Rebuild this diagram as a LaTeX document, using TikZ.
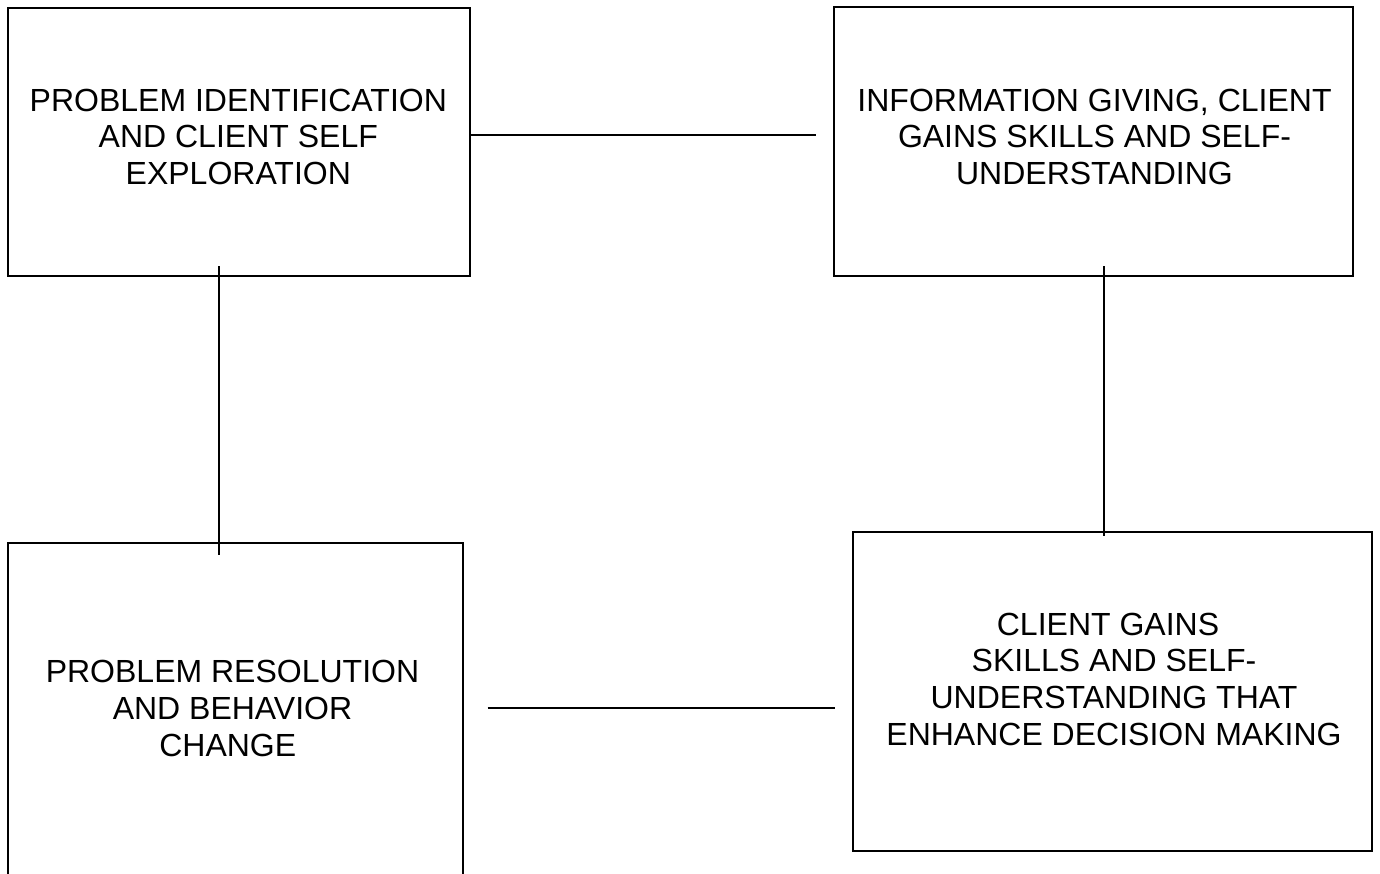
\documentclass[tikz,border=0pt]{standalone}
\usepackage{fontspec}
\setmainfont{Liberation Sans}
\begin{document}
\begin{tikzpicture}[x=0.5pt,y=-0.5pt,
  box/.style={draw=black,line width=1pt,inner sep=0pt,fill=none},
  lbl/.style={inner sep=0pt,align=center,font=\fontsize{16pt}{18.4pt}\selectfont},
  conn/.style={draw=black,line width=1pt}]
\clip (0,0) rectangle (1380,873);
\fill[white] (0,0) rectangle (1380,873);
% boxes
\node[box,minimum width=231pt,minimum height=134pt] (b1) at (239,142) {};
\node[box,minimum width=259.5pt,minimum height=134.5pt] (b2) at (1093.5,141.5) {};
\node[box,minimum width=227.5pt,minimum height=180pt] (b3) at (235.5,723) {};
\node[box,minimum width=259.5pt,minimum height=159.5pt] (b4) at (1112.5,691.5) {};
% texts
\node[lbl] (t1) at (238.3,136.8) {PROBLEM IDENTIFICATION\\AND CLIENT SELF\\EXPLORATION};
\node[lbl] (t2) at (1094.5,136.8) {INFORMATION GIVING, CLIENT\\GAINS SKILLS AND SELF-\\UNDERSTANDING};
\node[lbl] (t3) at (232.5,708.3) {PROBLEM RESOLUTION\\AND BEHAVIOR\hspace*{4.75pt}\\CHANGE\hspace*{4.75pt}};
\node[lbl] (t4) at (1114,679.2) {CLIENT GAINS\hspace*{6pt}\\SKILLS AND SELF-\hspace*{6pt}\\UNDERSTANDING THAT\\ENHANCE DECISION MAKING};
% connector ends
\coordinate (h1e) at (815.5,134.7);
\coordinate (v1s) at (219.3,266);
\coordinate (v1e) at (219.3,555);
\coordinate (v2s) at (1103.5,266);
\coordinate (v2e) at (1103.5,536);
\coordinate (h2s) at (487.7,708.3);
\coordinate (h2e) at (835,708.3);
% connectors
\draw[conn] (h1e -| b1.east) -- (h1e);
\draw[conn] (v1s) -- (v1e);
\draw[conn] (v2s) -- (v2e);
\draw[conn] (h2s) -- (h2e);
\end{tikzpicture}
\end{document}
